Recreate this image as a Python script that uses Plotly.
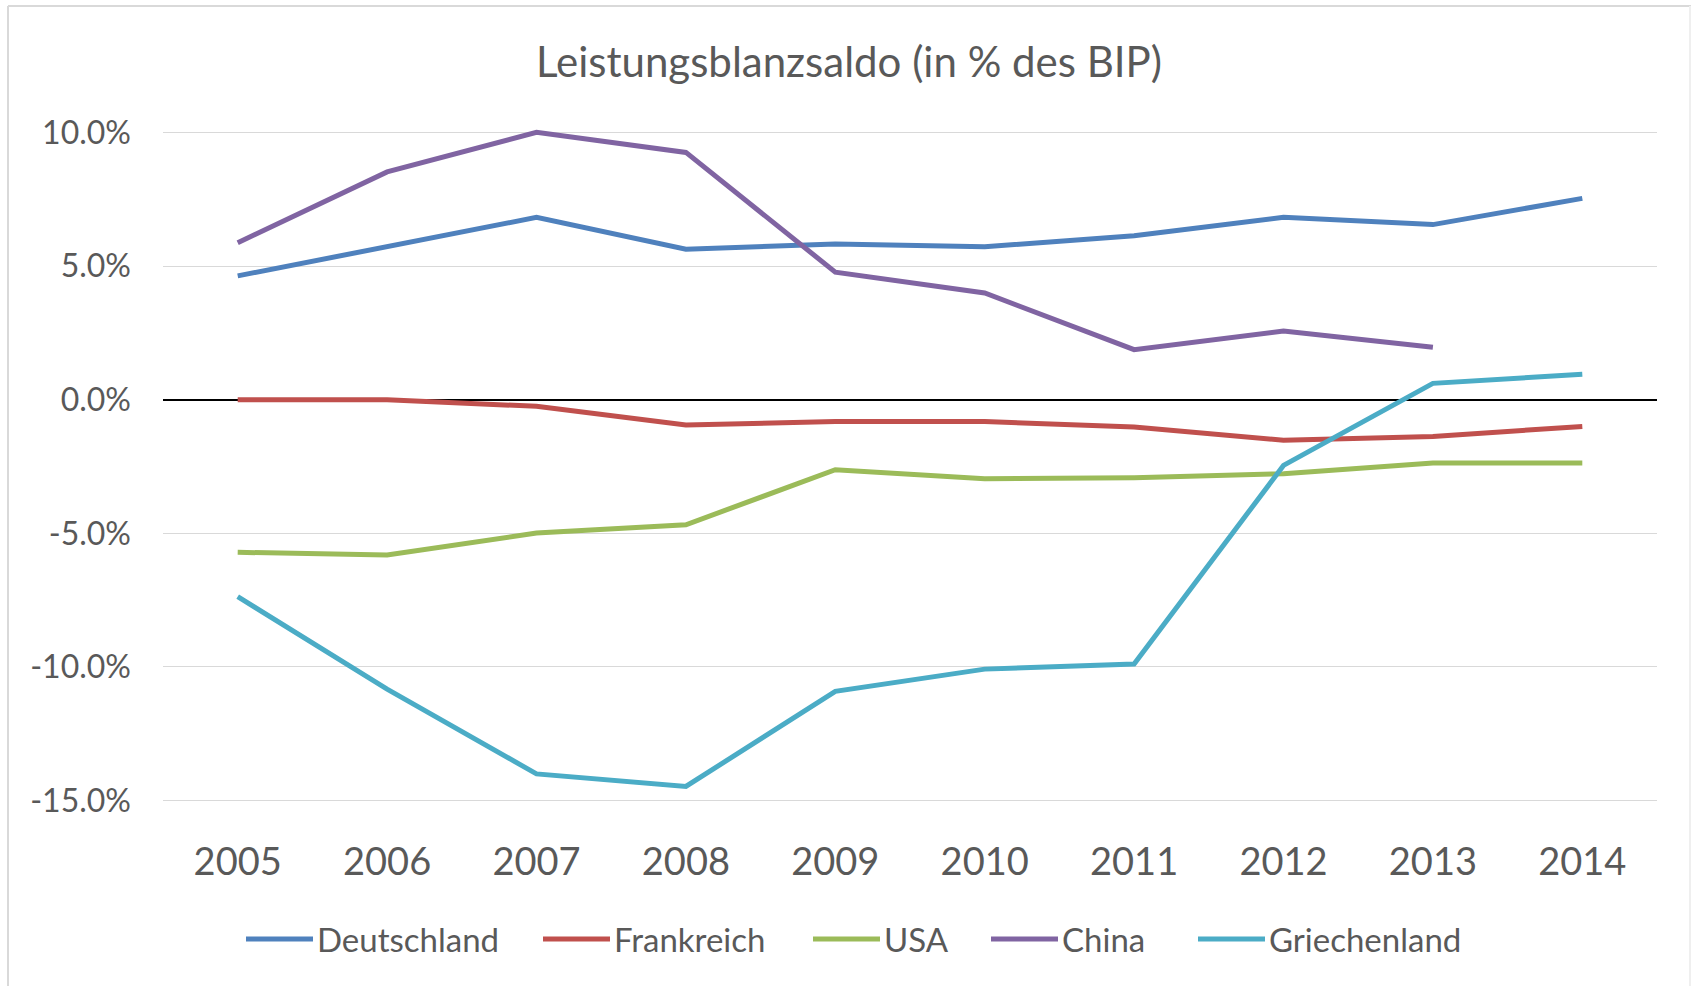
import plotly.graph_objects as go

# Leistungsbilanzsaldo in % des BIP, 2005-2014
years = ["2005", "2006", "2007", "2008", "2009", "2010", "2011", "2012", "2013", "2014"]
deutschland = [4.63, 5.74, 6.82, 5.63, 5.82, 5.72, 6.13, 6.82, 6.55, 7.53]
frankreich = [0.0, 0.0, -0.25, -0.95, -0.82, -0.82, -1.02, -1.52, -1.38, -1.0]
usa = [-5.71, -5.81, -4.99, -4.68, -2.62, -2.96, -2.92, -2.77, -2.37, -2.37]
china = [5.87, 8.52, 10.0, 9.25, 4.77, 3.99, 1.87, 2.57, 1.96, None]
griechenland = [-7.37, -10.83, -14.0, -14.47, -10.91, -10.08, -9.89, -2.46, 0.61, 0.95]

series_names = ["Deutschland", "Frankreich", "USA", "China", "Griechenland"]
series_values = [deutschland, frankreich, usa, china, griechenland]
series_colors = ["#4F81BD", "#C0504D", "#9BBB59", "#8064A2", "#4BACC6"]

y_tick_values = [-15, -10, -5, 0, 5, 10]
y_tick_labels = ["-15.0%", "-10.0%", "-5.0%", "0.0%", "5.0%", "10.0%"]

title_text = "Leistungsblanzsaldo (in % des BIP)"

W, H = 1692, 986
ML, MR, MT, MB = 163, 35, 119, 172
FONT = "Lato, 'Open Sans', sans-serif"
TEXT_COLOR = "#595959"


def px_x(px):
    return (px - ML) / (W - ML - MR)


def px_y(py):
    return (H - MB - py) / (H - MT - MB)


fig = go.Figure()
for name, vals, color in zip(series_names, series_values, series_colors):
    fig.add_trace(go.Scatter(
        x=years, y=vals, name=name, mode="lines",
        line=dict(color=color, width=5),
        connectgaps=False, showlegend=False, cliponaxis=False,
    ))

# legend row below the category axis
legend_line_starts = [246, 543, 813, 991, 1198]
legend_line_len = 67
legend_y = 939
shapes = []
annotations = []
for name, color, x0 in zip(series_names, series_colors, legend_line_starts):
    shapes.append(dict(
        type="line", xref="paper", yref="paper",
        x0=px_x(x0), x1=px_x(x0 + legend_line_len),
        y0=px_y(legend_y), y1=px_y(legend_y),
        line=dict(color=color, width=5),
    ))
    annotations.append(dict(
        text=name, xref="paper", yref="paper",
        x=px_x(x0 + legend_line_len + 2), y=px_y(legend_y),
        xanchor="left", yanchor="middle", showarrow=False,
        font=dict(family=FONT, size=33, color=TEXT_COLOR),
    ))

# chart frame
frame_color = "#D9D9D9"
shapes.append(dict(type="line", xref="paper", yref="paper",
                   x0=px_x(8), x1=px_x(1691), y0=px_y(6), y1=px_y(6),
                   line=dict(color=frame_color, width=2)))
shapes.append(dict(type="line", xref="paper", yref="paper",
                   x0=px_x(8), x1=px_x(8), y0=px_y(6), y1=px_y(990),
                   line=dict(color=frame_color, width=2)))
shapes.append(dict(type="line", xref="paper", yref="paper",
                   x0=px_x(1690), x1=px_x(1690), y0=px_y(6), y1=px_y(990),
                   line=dict(color="#EFEFEF", width=2)))

fig.update_layout(
    width=W, height=H,
    margin=dict(l=ML, r=MR, t=MT, b=MB, pad=0),
    paper_bgcolor="white", plot_bgcolor="white",
    title=dict(
        text=title_text, xref="container", yref="container",
        x=849 / W, y=1 - 62 / H, xanchor="center", yanchor="middle",
        font=dict(family=FONT, size=42, color=TEXT_COLOR),
    ),
    xaxis=dict(
        type="category", range=[-0.5, 9.5],
        showgrid=False, showline=False, ticks="",
        tickfont=dict(family=FONT, size=38, color=TEXT_COLOR),
        ticklabelstandoff=22,
    ),
    yaxis=dict(
        range=[-15.5, 10.5],
        tickvals=y_tick_values, ticktext=y_tick_labels,
        showgrid=True, gridcolor="#D9D9D9", gridwidth=1,
        zeroline=True, zerolinecolor="black", zerolinewidth=2,
        showline=False, ticks="",
        tickfont=dict(family=FONT, size=32, color=TEXT_COLOR),
        ticklabelstandoff=31,
    ),
    shapes=shapes,
    annotations=annotations,
    showlegend=False,
)

fig.write_html("out.html")
